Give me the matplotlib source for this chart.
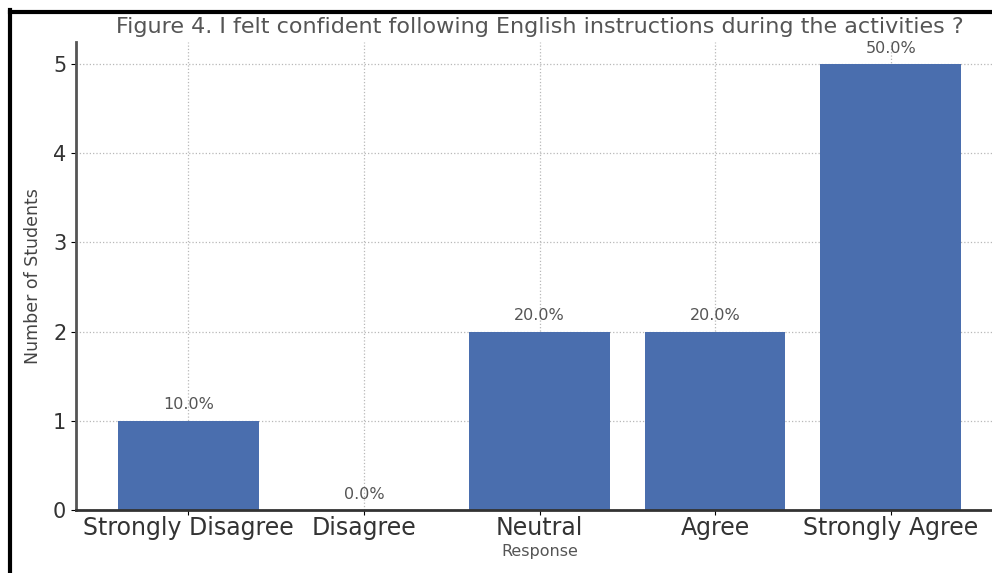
import matplotlib
matplotlib.use("Agg")
import matplotlib.pyplot as plt
from matplotlib.lines import Line2D

categories = ["Strongly Disagree", "Disagree", "Neutral", "Agree", "Strongly Agree"]
counts = [1, 0, 2, 2, 5]
percent_labels = ["10.0%", "0.0%", "20.0%", "20.0%", "50.0%"]
title = "Figure 4. I felt confident following English instructions during the activities ?"

fig = plt.figure(figsize=(9.92, 5.73), dpi=100)
W, H = 992, 573
left, right, bottom, top = 76, 1003, 510, 41.7
ax = fig.add_axes([left / W, (H - bottom) / H, (right - left) / W, (bottom - top) / H])

x = list(range(len(categories)))
bars = ax.bar(x, counts, width=0.8, color="#4a6eae", zorder=2)
ax.set_xticks(x)
ax.set_xticklabels(categories, fontsize=17, color="#333333")
ax.set_yticks(range(0, 6))
ax.tick_params(axis="y", labelsize=15, labelcolor="#333333")
ax.tick_params(axis="x", pad=1)
ax.set_ylim(0, 5.25)
ax.set_xlim(-0.64, 4.64)
ax.grid(True, linestyle=":", color="#b8b8b8", linewidth=0.9, zorder=0)
ax.set_axisbelow(True)
for s in ["top", "right"]:
    ax.spines[s].set_visible(False)
ax.spines["left"].set_color("#555555")
ax.spines["bottom"].set_color("#333333")
ax.spines["left"].set_linewidth(2)
ax.spines["bottom"].set_linewidth(2)

for rect, lab in zip(bars, percent_labels):
    ax.annotate(lab, (rect.get_x() + rect.get_width() / 2, rect.get_height()),
                xytext=(0, 6), textcoords="offset points", ha="center", va="bottom",
                fontsize=11.5, color="#555555")

ax.set_title(title, fontsize=16, color="#555555", pad=6)
ax.set_xlabel("Response", fontsize=11.5, color="#555555", labelpad=3)
ax.set_ylabel("Number of Students", fontsize=12.5, color="#444444", labelpad=8)

# black frame lines at top and left of the image
fig.add_artist(Line2D([10 / W, 10 / W], [0, 1 - 10 / H], color="black", linewidth=3, transform=fig.transFigure))
fig.add_artist(Line2D([10 / W, 1], [1 - 12 / H, 1 - 12 / H], color="black", linewidth=3, transform=fig.transFigure))

fig.savefig("out.png", dpi=100)
